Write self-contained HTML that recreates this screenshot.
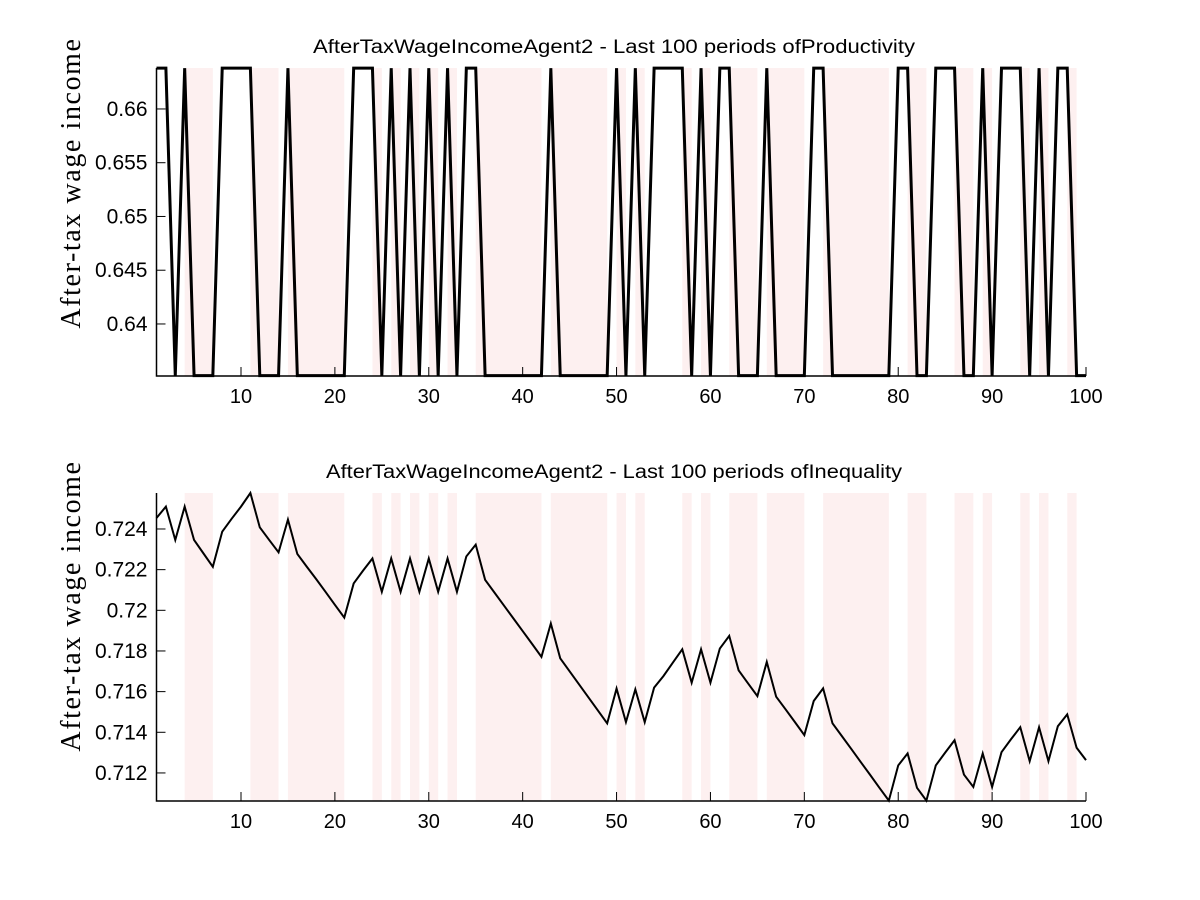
<!DOCTYPE html>
<html><head><meta charset="utf-8"><style>
html,body{margin:0;padding:0;background:#fff;}
svg{display:block;}
text{font-family:"Liberation Sans",Arial,sans-serif;fill:#000;}
.ylab{font-family:"Liberation Serif","DejaVu Serif",serif;font-size:28px;letter-spacing:1.6px;}
</style></head><body>
<svg id="chart" width="1200" height="900" xmlns="http://www.w3.org/2000/svg"></svg>
<script>
const periods = Array.from({length:100},(_,i)=>i+1);
const HI = 0.6638, LO = 0.6352;
const prodState = "HHLHLLLHHHHLLLHLLLLLLHHHLHLHLHLHLHHLLLLLLLHLLLLLLHLHLHHHHLHLHHLLLHLLLLHHLLLLLLLHHLLHHHLLHLHHHLHLHHLL";
const productivity = prodState.split('').map(c=>c==='H'?HI:LO);
const inequality = [0.72454,0.7251,0.72346,0.7251,0.72346,0.7228,0.72214,0.72387,0.7245,0.7251,
0.72577,0.72408,0.72346,0.72285,0.72446,0.72277,0.72215,0.72154,0.72091,0.72027,
0.71964,0.72132,0.72195,0.72255,0.72091,0.72255,0.72091,0.72255,0.72091,0.72255,
0.72091,0.72255,0.72091,0.72265,0.72323,0.7215,0.72087,0.72024,0.71961,0.71898,
0.71835,0.71771,0.71935,0.71764,0.71700,0.71636,0.71572,0.71508,0.71444,0.71615,
0.7145,0.71611,0.7145,0.7162,0.71677,0.71743,0.71808,0.71644,0.71808,0.71644,
0.71812,0.71874,0.71705,0.71641,0.71578,0.71746,0.71575,0.71513,0.7145,0.71386,
0.71554,0.71616,0.71444,0.71381,0.71318,0.71254,0.71191,0.71127,0.71064,0.71237,
0.71296,0.71127,0.71064,0.71237,0.713,0.71361,0.71192,0.71131,0.71296,0.71131,
0.71302,0.71365,0.71425,0.71258,0.71425,0.71258,0.7143,0.71488,0.71324,0.71263];
const bandStarts = [4,11,15,24,26,28,30,32,35,43,50,52,57,59,62,66,72,81,86,89,93,95,98];
const bandEnds   = [7,14,21,25,27,29,31,33,42,49,51,53,58,60,65,70,79,83,88,90,94,96,99];
const xTicks = [10,20,30,40,50,60,70,80,90,100];
const topTicks = [0.64,0.645,0.65,0.655,0.66];
const topTickLabels = ["0.64","0.645","0.65","0.655","0.66"];
const botTicks = [0.712,0.714,0.716,0.718,0.72,0.722,0.724];
const botTickLabels = ["0.712","0.714","0.716","0.718","0.72","0.722","0.724"];

const NS="http://www.w3.org/2000/svg";
const svg=document.getElementById('chart');
function mk(tag,attrs,parent){const e=document.createElementNS(NS,tag);for(const k in attrs)e.setAttribute(k,attrs[k]);(parent||svg).appendChild(e);return e;}

function panel(cfg){
  const g=mk('g',{});
  
  
  const L=156.5,R=1086,T=cfg.top,B=cfg.bottom;
  const xs=v=>L+(v-1)*(R-L)/99;
  const ys=v=>B-(v-cfg.ymin)/(cfg.ymax-cfg.ymin)*(B-T);
  bandStarts.forEach((s,i)=>{
    const r=mk('rect',{x:xs(s),y:T,width:xs(bandEnds[i])-xs(s),height:B-T,fill:'#fdf0f0'},g);
    
    
  });
  const d=cfg.data.map((v,i)=>(i?'L':'M')+xs(periods[i]).toFixed(2)+','+ys(v).toFixed(2)).join(' ');
  const p=mk('path',{d:d,fill:'none',stroke:'#000','stroke-width':cfg.lw,'stroke-linejoin':'miter'},g);
  
  
  const ax=mk('path',{d:`M${L},${T} L${L},${B} L${R},${B}`,fill:'none',stroke:'#000','stroke-width':1.5},g);
  
  
  xTicks.forEach(t=>{
    mk('line',{x1:xs(t),x2:xs(t),y1:B,y2:B-9,stroke:'#000','stroke-width':1},g);
    const tx=mk('text',{x:xs(t),y:B+27,'text-anchor':'middle','font-size':20},g);
    tx.textContent=t;
    
    
  });
  cfg.ticks.forEach((t,i)=>{
    mk('line',{x1:L,x2:L+9,y1:ys(t),y2:ys(t),stroke:'#000','stroke-width':1},g);
    const tx=mk('text',{x:L-9,y:ys(t)+7,'text-anchor':'end','font-size':21},g);
    tx.textContent=cfg.labels[i];
    
    
  });
  const ti=mk('text',{x:cfg.titleX,y:T-15,'font-size':19,textLength:cfg.titleW,lengthAdjust:'spacingAndGlyphs'},g);
  ti.textContent=cfg.title;
  
  
  const cy=cfg.labelY;
  const yl=mk('text',{x:80,y:cy,'text-anchor':'middle',class:'ylab',transform:`rotate(-90 80 ${cy})`},g);
  yl.textContent='After-tax wage income';
  
  
}
panel({name:'productivity-panel',top:68,bottom:376,labelY:183,titleX:313,titleW:602,ymin:0.63516,ymax:0.66381,data:productivity,lw:3,ticks:topTicks,labels:topTickLabels,title:'AfterTaxWageIncomeAgent2 - Last 100 periods ofProductivity'});
panel({name:'inequality-panel',top:493,bottom:801,labelY:606,titleX:326,titleW:576,ymin:0.71062,ymax:0.72577,data:inequality,lw:2,ticks:botTicks,labels:botTickLabels,title:'AfterTaxWageIncomeAgent2 - Last 100 periods ofInequality'});
</script>
</body></html>
